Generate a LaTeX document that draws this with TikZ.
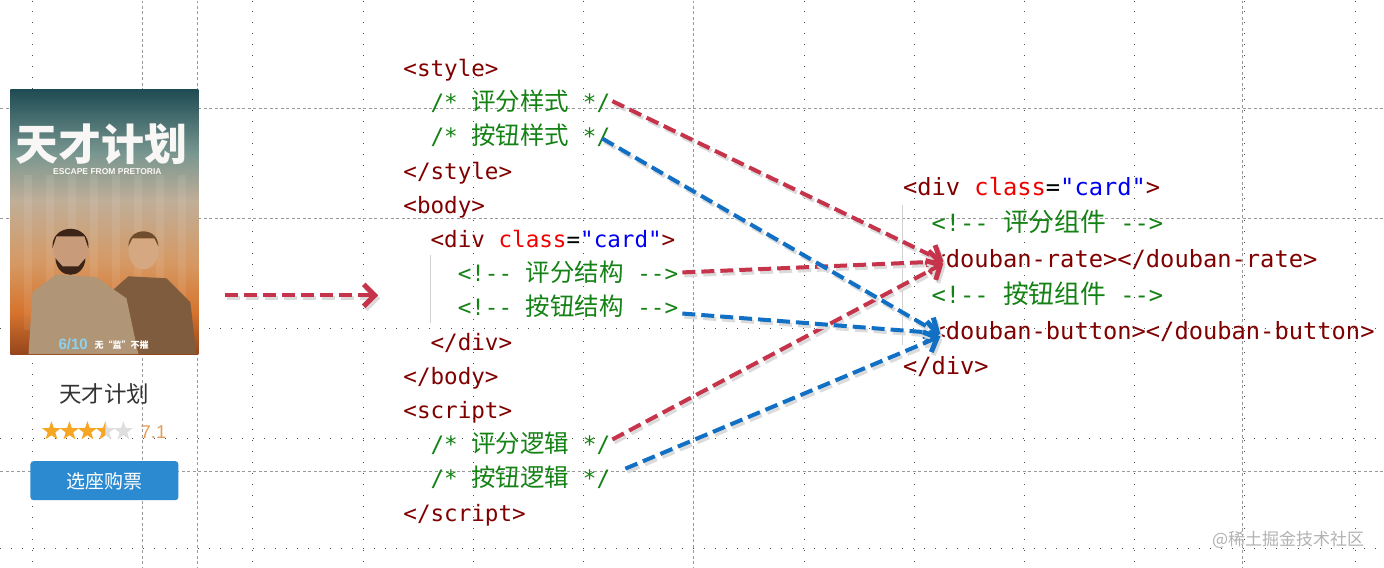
\documentclass[tikz,border=0pt]{standalone}
\usepackage{fontspec}
\setmonofont{DejaVu Sans Mono}
\newfontfamily\cjkfont{Noto Sans CJK SC}[Scale=1.085]
\newfontfamily\cjkplain{Noto Sans CJK SC}
\newfontfamily\uisans{Liberation Sans}
\usetikzlibrary{arrows.meta, shapes.geometric}

\definecolor{tagc}{RGB}{128,0,0}
\definecolor{cmtc}{RGB}{20,130,20}
\definecolor{attrc}{RGB}{240,0,0}
\definecolor{strc}{RGB}{0,0,240}
\definecolor{ratered}{RGB}{198,52,76}
\definecolor{btnblue}{RGB}{18,112,196}
\definecolor{starOn}{RGB}{246,166,35}
\definecolor{starOff}{RGB}{222,222,222}
\definecolor{scorec}{RGB}{226,158,88}
\definecolor{buyblue}{RGB}{43,138,208}
\definecolor{dateblue}{RGB}{140,210,238}
\definecolor{skinA}{RGB}{200,156,122}
\definecolor{skinB}{RGB}{214,168,130}
\definecolor{hairA}{RGB}{60,36,24}
\definecolor{hairB}{RGB}{110,76,44}
\definecolor{shirtA}{RGB}{176,150,118}
\definecolor{shirtB}{RGB}{128,92,62}
\definecolor{posterA}{RGB}{150,70,28}
\definecolor{posterB}{RGB}{214,116,46}
\definecolor{posterC}{RGB}{214,152,98}
\definecolor{posterD}{RGB}{192,174,152}
\definecolor{posterE}{RGB}{120,150,144}
\definecolor{posterF}{RGB}{30,75,82}
\pgfdeclareverticalshading{posterfade}{100bp}{color(0bp)=(posterA); color(25bp)=(posterA);
  color(33bp)=(posterB); color(42bp)=(posterC); color(54bp)=(posterD);
  color(63bp)=(posterE); color(75bp)=(posterF); color(100bp)=(posterF)}

\newcommand\zh[1]{{\cjkfont #1}}
\newcommand\tagtx[1]{\textcolor{tagc}{#1}}
\newcommand\cmttx[1]{\textcolor{cmtc}{#1}}
\newcommand\cardtx{\tagtx{<div} \textcolor{attrc}{class}=\textcolor{strc}{"card"}\tagtx{>}}

\begin{document}
\begin{tikzpicture}[x=1pt, y=-1pt,
  codeL/.style={anchor=base west, inner sep=0pt, font=\ttfamily\fontsize{22.6}{27}\selectfont},
  codeR/.style={anchor=base west, inner sep=0pt, font=\ttfamily\fontsize{23.75}{28}\selectfont},
  gridDot/.style={draw=black!70, line width=1pt, dash pattern=on 1pt off 10pt},
  guideDash/.style={draw=black!40, line width=0.7pt, dash pattern=on 3pt off 2.5pt},
  indentLine/.style={draw=black!18, line width=0.8pt},
  starIcon/.style={star, star points=5, star point ratio=2.5, minimum size=20pt, inner sep=0pt, draw=none},
  linkArrow/.style={line width=4pt, dash pattern=on 13pt off 6pt,
    -{Straight Barb[length=11pt,width=22pt,line width=5pt]},
    preaction={draw=black!14, line width=4pt, dash pattern=on 13pt off 6pt,
      transform canvas={shift={(2pt,-3pt)}}}},
  rateArrow/.style={linkArrow, draw=ratered},
  btnArrow/.style={linkArrow, draw=btnblue}]

  \fill[white] (0,0) rectangle (1384,567);

  % grid and guides
  \foreach \gx in {0,...,12}
    \draw[gridDot] ({32+110.3*\gx},0) -- ({32+110.3*\gx},567);
  \foreach \gy in {0,...,4}
    \draw[gridDot] (0,{108+110*\gy}) -- (1384,{108+110*\gy});
  \foreach \gx in {142,197,693,1243}
    \draw[guideDash] (\gx,0) -- (\gx,567);
  \foreach \gy in {108,218,471}
    \draw[guideDash] (0,\gy) -- (1384,\gy);

  % movie card
  \shade[shading=posterfade] (10,89) rectangle (198,354);
  \foreach \bx in {24,46,68,90,112,134,156,178}
    \fill[white, opacity=0.08] (\bx,175) rectangle (\bx+8,330);
  \fill[shirtB] (108,354) -- (110,292) -- (128,276) -- (166,278) -- (190,302) -- (196,354) -- cycle;
  \fill[skinB] (143,250) ellipse [x radius=15, y radius=19];
  \fill[hairB] (128,246) .. controls (128,226) and (158,226) .. (158,246) -- (154,238) -- (132,238) -- cycle;
  \fill[shirtA] (28,354) -- (32,292) -- (56,274) -- (96,277) -- (126,298) -- (138,354) -- cycle;
  \fill[skinA] (70,250) ellipse [x radius=17, y radius=22];
  \fill[hairA] (52,248) .. controls (50,222) and (90,222) .. (88,248) -- (84,236) -- (56,236) -- cycle;
  \fill[hairA] (55,258) .. controls (56,280) and (84,280) .. (85,258) -- (78,266) -- (62,266) -- cycle;

  \node[font=\cjkplain\bfseries\fontsize{43}{43}\selectfont, text=white!90!posterD] (pTitle) at (101,144) {天才计划};
  \node[font=\uisans\bfseries\fontsize{8.5}{9}\selectfont, text=white!92!posterC] (pSub) at (107,171) {ESCAPE FROM PRETORIA};
  \node[font=\uisans\bfseries\fontsize{15}{15}\selectfont, text=dateblue, anchor=base west, inner sep=0pt] (pDate) at (58,349) {6/10};
  \node[font=\cjkplain\bfseries\fontsize{9}{9}\selectfont, text=white, anchor=base west, inner sep=0pt] (pTag) at (94,348) {无“监”不摧};

  \node[font=\cjkplain\fontsize{22.5}{23}\selectfont, text=black!80] (movie) at (104,394) {天才计划};
  \foreach \sx [count=\si] in {51,69,87}
    \node[starIcon, fill=starOn] (star\si) at (\sx,431) {};
  \node[starIcon, fill=starOff] (star4) at (105,431) {};
  \node[starIcon, fill=starOff] (star5) at (123,431) {};
  \begin{scope}
    \clip (94,418) rectangle (105,444);
    \node[starIcon, fill=starOn] (star4h) at (105,431) {};
  \end{scope}
  \node[font=\uisans\fontsize{18.5}{19}\selectfont, text=scorec, anchor=west, inner sep=0pt] (score) at (140,432) {7.1};
  \fill[buyblue, rounded corners=3pt] (30,461) rectangle (178,500);
  \node[font=\cjkplain\fontsize{19}{19}\selectfont, text=white] (buy) at (104,481) {选座购票};

  % left code
  \draw[indentLine] (430,255) -- (430,323);
  \node[codeL] (styOpen)   at (403,76)    {\tagtx{<style>}};
  \node[codeL] (rateSty)   at (430.2,110) {\cmttx{/* \zh{评分样式} */}};
  \node[codeL] (btnSty)    at (430.2,144.5) {\cmttx{/* \zh{按钮样式} */}};
  \node[codeL] (styClose)  at (403,178.7) {\tagtx{</style>}};
  \node[codeL] (bodyOpen)  at (403,213)   {\tagtx{<body>}};
  \node[codeL] (divOpen)   at (430.2,247) {\cardtx};
  \node[codeL] (rateHtml)  at (457.4,281.4) {\cmttx{<!-- \zh{评分结构} -->}};
  \node[codeL] (btnHtml)   at (457.4,315.6) {\cmttx{<!-- \zh{按钮结构} -->}};
  \node[codeL] (divClose)  at (430.2,349.8) {\tagtx{</div>}};
  \node[codeL] (bodyClose) at (403,384)   {\tagtx{</body>}};
  \node[codeL] (scrOpen)   at (403,418.3) {\tagtx{<script>}};
  \node[codeL] (rateJs)    at (430.2,452.5) {\cmttx{/* \zh{评分逻辑} */}};
  \node[codeL] (btnJs)     at (430.2,486.8) {\cmttx{/* \zh{按钮逻辑} */}};
  \node[codeL] (scrClose)  at (403,521)   {\tagtx{</script>}};

  % right code
  \draw[indentLine] (903,205) -- (903,345);
  \node[codeR] (cardDiv) at (903,195)   {\cardtx};
  \node[codeR] (rateCmt) at (931.6,231) {\cmttx{<!-- \zh{评分组件} -->}};
  \node[codeR] (rateTag) at (931.6,267) {\tagtx{<douban-rate></douban-rate>}};
  \node[codeR] (btnCmt)  at (931.6,303) {\cmttx{<!-- \zh{按钮组件} -->}};
  \node[codeR] (btnTag)  at (931.6,339) {\tagtx{<douban-button></douban-button>}};
  \node[codeR] (cardEnd) at (903,374.5) {\tagtx{</div>}};

  \node[font=\cjkplain\fontsize{17}{17}\selectfont, text=black!30, anchor=east] (mark) at (1368,540) {@稀土掘金技术社区};

  % arrows
  \coordinate (feedFrom) at (225,295);
  \coordinate (feedTo) at (378,295);
  \path (feedFrom) edge[rateArrow] (feedTo);

  \path
    ([xshift=2pt]rateSty.east) edge[rateArrow] ([xshift=12pt,yshift=-2pt]rateTag.west)
    ([xshift=4pt]rateHtml.east) edge[rateArrow] ([xshift=12pt,yshift=-2pt]rateTag.west)
    ([xshift=2pt,yshift=4pt]rateJs.east) edge[rateArrow] ([xshift=12pt,yshift=-4pt]rateTag.west);
  \path
    ([xshift=-8pt,yshift=-3pt]btnSty.east) edge[btnArrow] ([xshift=9pt,yshift=-3pt]btnTag.west)
    ([xshift=4pt,yshift=-7pt]btnHtml.east) edge[btnArrow] ([xshift=9pt,yshift=-2pt]btnTag.west)
    ([xshift=15pt,yshift=9pt]btnJs.east) edge[btnArrow] ([xshift=9pt,yshift=-5pt]btnTag.west);
\end{tikzpicture}
\end{document}
